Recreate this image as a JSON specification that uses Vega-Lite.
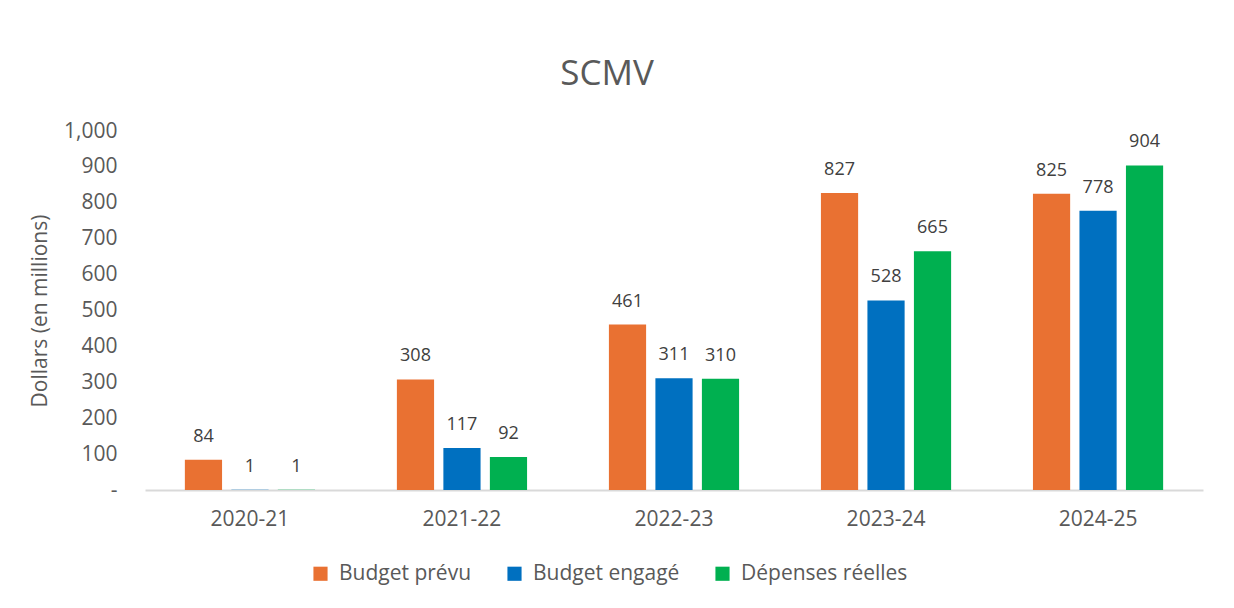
{
  "$schema": "https://vega.github.io/schema/vega-lite/v6.json",
  "autosize": {"type": "none"},
  "padding": {"left": 145, "top": 131, "right": 31, "bottom": 118},
  "width": 1058,
  "height": 359,
  "background": "white",
  "config": {"view": {"stroke": null}},
  "title": {
    "text": "SCMV",
    "fontSize": 35,
    "font": "Open Sans",
    "fontWeight": "normal",
    "color": "#595959",
    "anchor": "middle",
    "dx": -67,
    "offset": 28
  },
  "data": {
    "values": [
      {"year": "2020-21", "serie": "Budget prévu", "value": 84},
      {"year": "2020-21", "serie": "Budget engagé", "value": 1},
      {"year": "2020-21", "serie": "Dépenses réelles", "value": 1},
      {"year": "2021-22", "serie": "Budget prévu", "value": 308},
      {"year": "2021-22", "serie": "Budget engagé", "value": 117},
      {"year": "2021-22", "serie": "Dépenses réelles", "value": 92},
      {"year": "2022-23", "serie": "Budget prévu", "value": 461},
      {"year": "2022-23", "serie": "Budget engagé", "value": 311},
      {"year": "2022-23", "serie": "Dépenses réelles", "value": 310},
      {"year": "2023-24", "serie": "Budget prévu", "value": 827},
      {"year": "2023-24", "serie": "Budget engagé", "value": 528},
      {"year": "2023-24", "serie": "Dépenses réelles", "value": 665},
      {"year": "2024-25", "serie": "Budget prévu", "value": 825},
      {"year": "2024-25", "serie": "Budget engagé", "value": 778},
      {"year": "2024-25", "serie": "Dépenses réelles", "value": 904}
    ]
  },
  "encoding": {
    "x": {
      "field": "year",
      "type": "nominal",
      "title": null,
      "scale": {"paddingInner": 0.386, "paddingOuter": 0.188},
      "axis": {
        "labelAngle": 0,
        "labelFontSize": 21,
        "labelColor": "#595959",
        "labelFont": "Open Sans",
        "labelPadding": 18,
        "ticks": false,
        "domainColor": "#d9d9d9",
        "domainWidth": 2
      }
    },
    "xOffset": {
      "field": "serie",
      "type": "nominal",
      "sort": ["Budget prévu", "Budget engagé", "Dépenses réelles"],
      "scale": {"paddingInner": 0.2}
    },
    "y": {
      "field": "value",
      "type": "quantitative",
      "title": "Dollars (en millions)",
      "scale": {"domain": [0, 1000]},
      "axis": {
        "values": [0, 100, 200, 300, 400, 500, 600, 700, 800, 900, 1000],
        "labelExpr": "datum.value == 0 ? '-' : format(datum.value, ',')",
        "grid": false,
        "domain": false,
        "ticks": false,
        "labelPadding": 28,
        "labelFontSize": 21,
        "labelColor": "#595959",
        "labelFont": "Open Sans",
        "titleFontSize": 21,
        "titleFont": "Open Sans",
        "titleFontWeight": "normal",
        "titleColor": "#595959",
        "titlePadding": 13
      }
    }
  },
  "layer": [
    {
      "mark": {"type": "bar"},
      "encoding": {
        "color": {
          "field": "serie",
          "type": "nominal",
          "sort": ["Budget prévu", "Budget engagé", "Dépenses réelles"],
          "scale": {
            "domain": ["Budget prévu", "Budget engagé", "Dépenses réelles"],
            "range": ["#E97132", "#0070C0", "#00B050"]
          },
          "legend": {
            "title": null,
            "orient": "none",
            "direction": "horizontal",
            "legendX": 165,
            "legendY": 432,
            "symbolType": "square",
            "symbolSize": 200,
            "symbolStrokeWidth": 0,
            "labelFontSize": 21,
            "labelFont": "Open Sans",
            "labelColor": "#595959",
            "labelOffset": 8,
            "labelLimit": 400,
            "columnPadding": 32
          }
        }
      }
    },
    {
      "mark": {
        "type": "text",
        "baseline": "alphabetic",
        "dy": -18,
        "fontSize": 18,
        "font": "Open Sans",
        "color": "#404040"
      },
      "encoding": {
        "text": {"field": "value", "type": "quantitative", "format": ","}
      }
    }
  ]
}
